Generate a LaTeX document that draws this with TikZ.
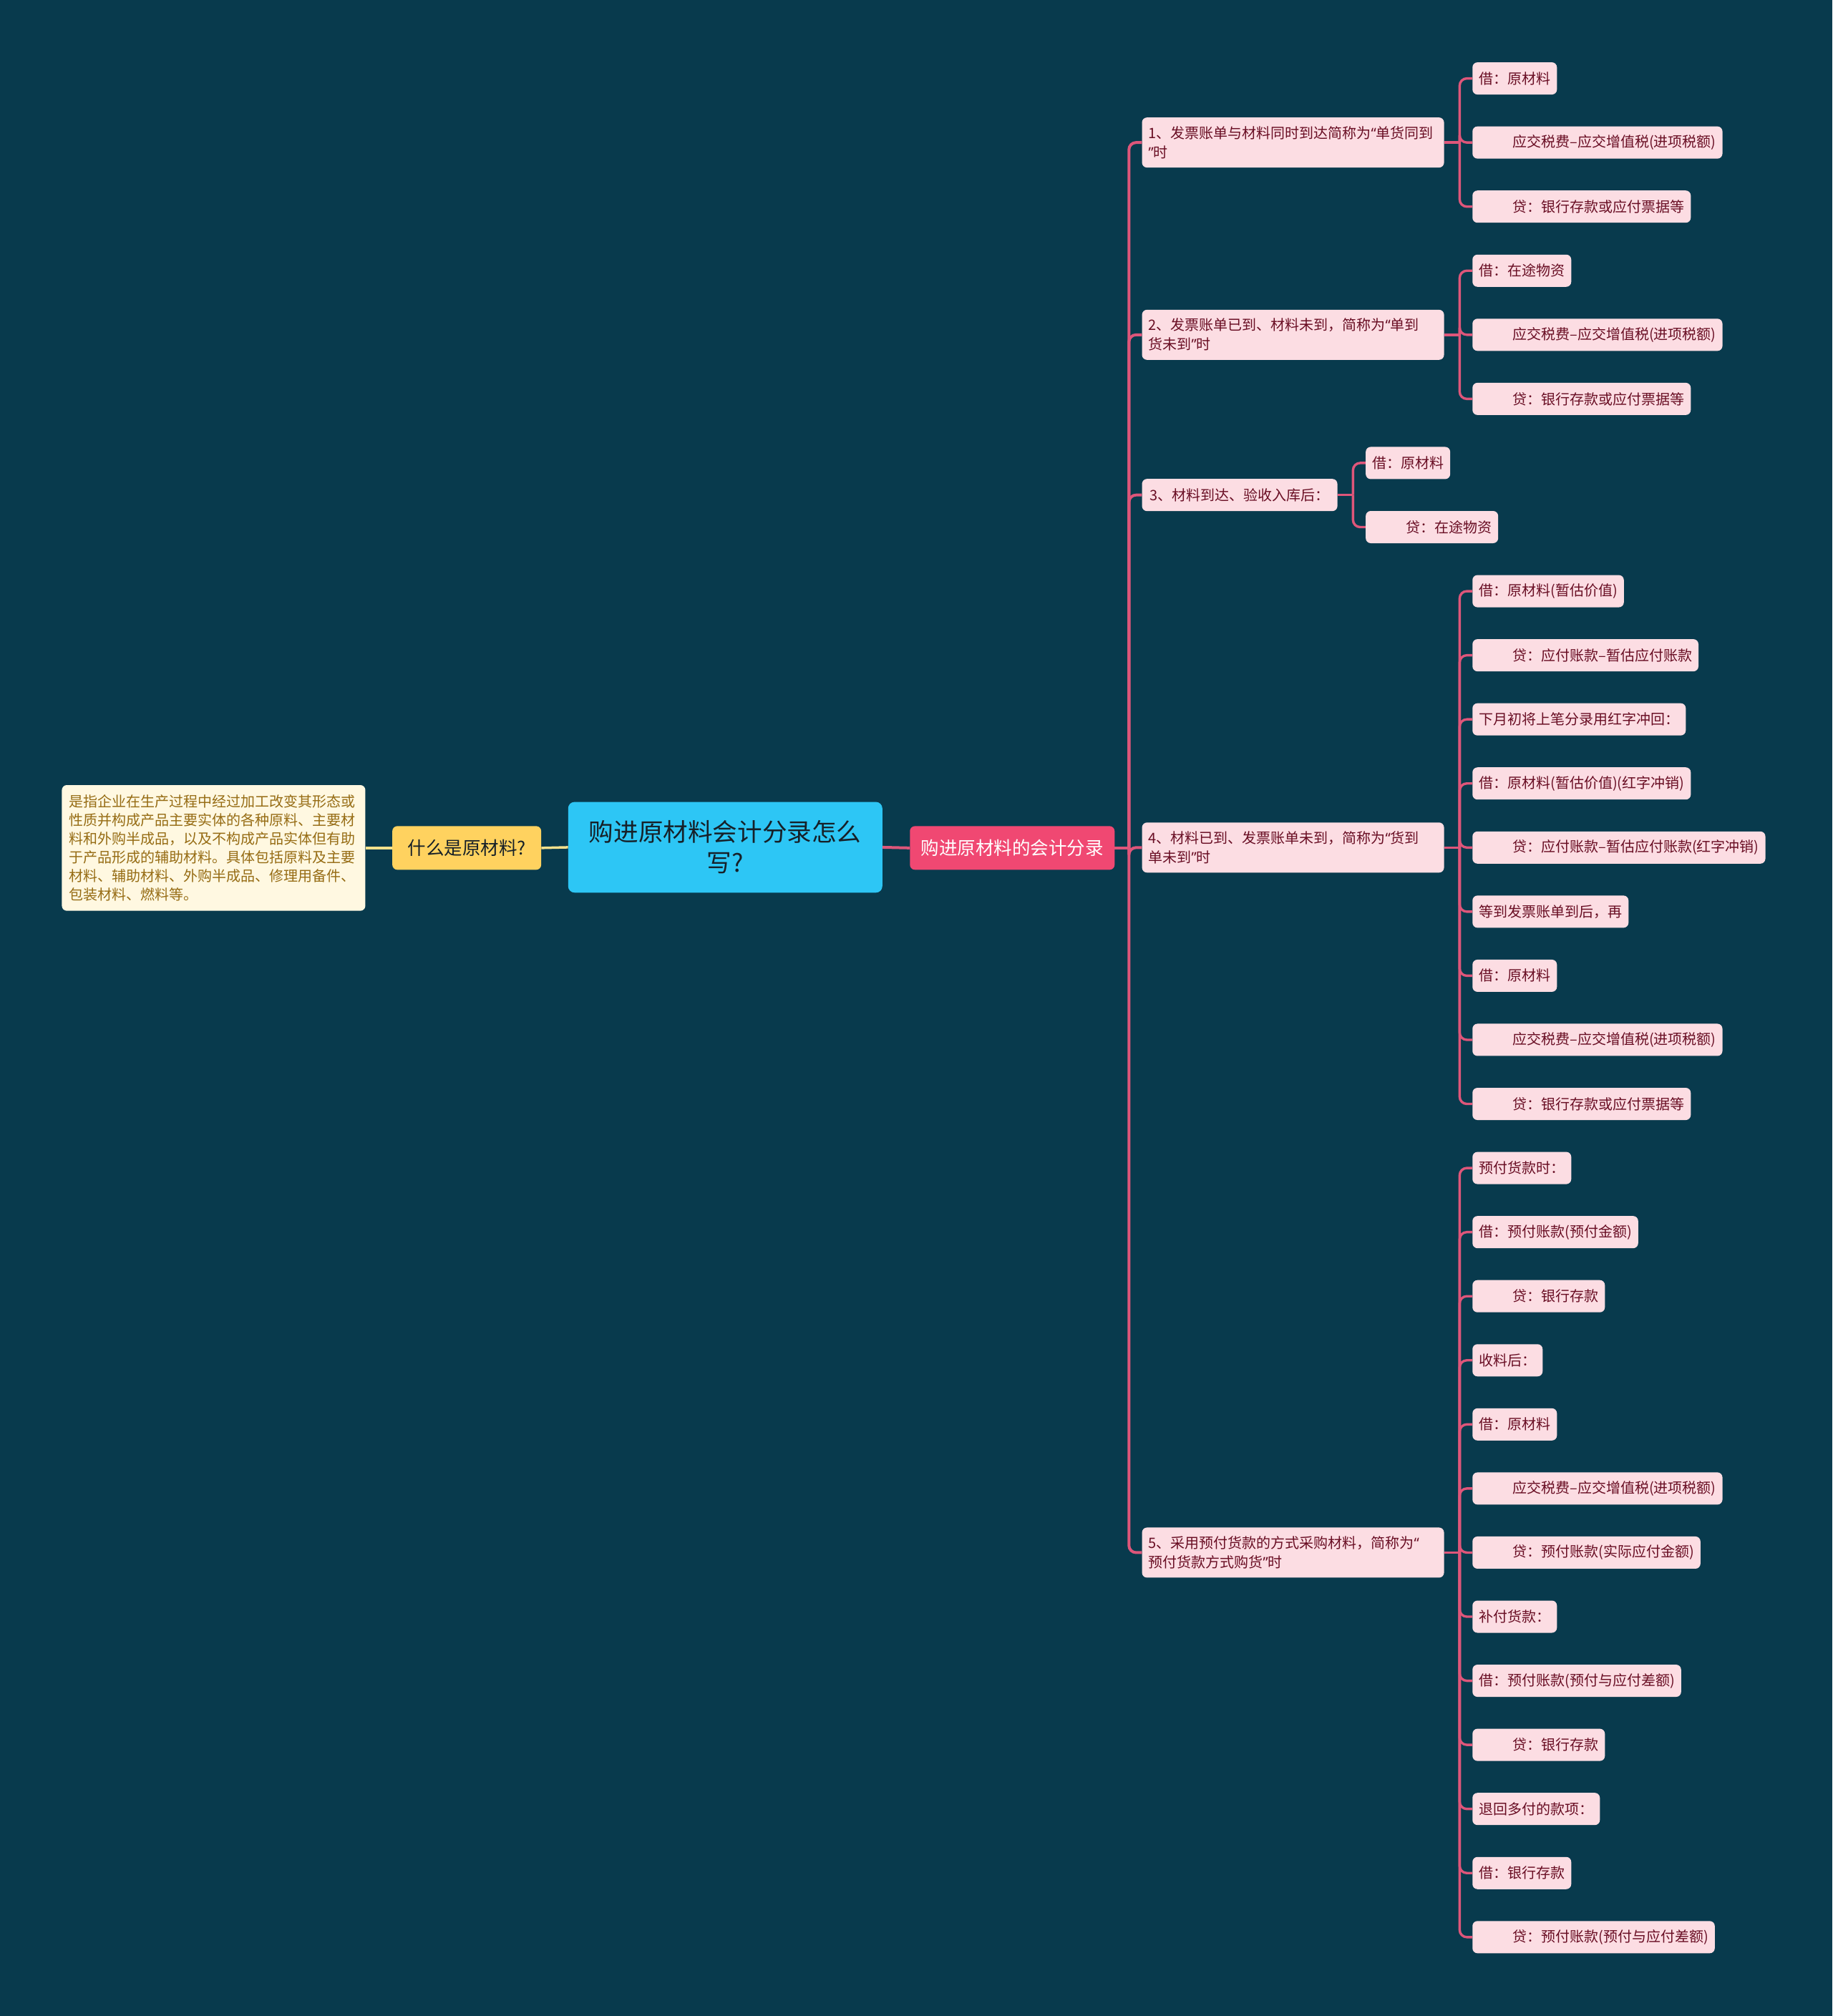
\documentclass[tikz,border=0pt]{standalone}
\usepackage{fontspec}
\newfontfamily\cjk{Noto Sans CJK SC}
\newfontfamily\lat{Noto Sans}
\newcommand{\myoq}{{\lat “}}
\newcommand{\mycq}{{\lat ”}}
\definecolor{bg}{RGB}{8,58,77}
\definecolor{leaffill}{RGB}{252,221,227}
\definecolor{leaftext}{RGB}{105,14,36}
\definecolor{linkpink}{RGB}{222,86,122}
\definecolor{redfill}{RGB}{240,72,114}
\definecolor{cyanfill}{RGB}{45,198,245}
\definecolor{yellowfill}{RGB}{255,210,95}
\definecolor{descfill}{RGB}{255,248,225}
\definecolor{desctext}{RGB}{150,108,20}
\definecolor{yellowline}{RGB}{245,225,140}
\definecolor{darktext}{RGB}{22,32,40}
\begin{document}
\begin{tikzpicture}[x=1.7965pt,y=-1.7965pt,
  leaf/.style={fill=leaffill, rounded corners=7pt, text=leaftext,
    font=\cjk\fontsize{20pt}{26pt}\selectfont, minimum height=45pt,
    inner xsep=9pt, inner ysep=0pt, anchor=west},
  midnode/.style={leaf, text width=404pt, align=left, minimum height=70pt,
    font=\cjk\fontsize{20pt}{27pt}\selectfont},
  conn/.style={draw=linkpink, line width=3.4pt},
  fork/.style={conn, rounded corners=10pt},
  trunk/.style={draw=linkpink, line width=4pt, rounded corners=10pt},
  yconn/.style={draw=yellowline, line width=3.5pt}]
\useasboundingbox (0,0) rectangle (1425,1568);
\fill[bg] (0,0) rectangle (1425,1568);

% left side
\node[fill=descfill, rounded corners=7pt, text=desctext, anchor=west,
  font=\cjk\fontsize{20pt}{26pt}\selectfont, text width=404pt, align=left,
  inner xsep=10pt, inner ysep=13.5pt] (desc) at (48,659.5)
  {是指企业在生产过程中经过加工改变其形态或\\性质并构成产品主要实体的各种原料、主要材\\料和外购半成品，以及不构成产品实体但有助\\于产品形成的辅助材料。具体包括原料及主要\\材料、辅助材料、外购半成品、修理用备件、\\包装材料、燃料等。};
\node[fill=yellowfill, rounded corners=7pt, text=darktext, anchor=west,
  font=\cjk\fontsize{25.5pt}{30pt}\selectfont, minimum width=208pt,
  minimum height=61pt] (what) at (305,659.5) {什么是原材料?};
\node[fill=cyanfill, rounded corners=9pt, text=darktext, align=center,
  font=\cjk\fontsize{34.6pt}{43.3pt}\selectfont, minimum width=439pt,
  minimum height=126.7pt] (root) at (564,659) {购进原材料会计分录怎么\\写?};
\node[fill=redfill, rounded corners=7pt, text=white, anchor=west,
  font=\cjk\fontsize{25.5pt}{30pt}\selectfont, minimum width=286pt,
  minimum height=61pt] (red) at (707.5,659.5) {购进原材料的会计分录};

\draw[yconn] (desc.east) -- (what.west);
\draw[yconn] (what.east) -- (root.west);
\draw[trunk] (root.east) -- (red.west);

% level 2
\node[midnode] (n1) at (888,110.85) {1、发票账单与材料同时到达简称为\myoq 单货同到\\\mycq 时};
\node[midnode] (n2) at (888,260.4) {2、发票账单已到、材料未到，简称为\myoq 单到\\货未到\mycq 时};
\node[leaf, minimum width=273pt] (n3) at (888,385) {3、材料到达、验收入库后：};
\node[midnode] (n4) at (888,659.2) {4、材料已到、发票账单未到，简称为\myoq 货到\\单未到\mycq 时};
\node[midnode] (n5) at (888,1207.55) {5、采用预付货款的方式采购材料，简称为\myoq\\预付货款方式购货\mycq 时};

\coordinate (t) at ([xshift=19.8pt]red.east);
\draw[trunk] (red.east) -- (t);
\foreach \n in {n1,n2,n3,n4,n5} \draw[trunk] (t) |- (\n.west);

% group 1
\node[leaf] (a1) at (1145,61) {借：原材料};
\node[leaf] (a2) at (1145,110.85) {\hspace*{47pt}应交税费–应交增值税(进项税额)};
\node[leaf] (a3) at (1145,160.7) {\hspace*{47pt}贷：银行存款或应付票据等};
% group 2
\node[leaf] (a4) at (1145,210.55) {借：在途物资};
\node[leaf] (a5) at (1145,260.4) {\hspace*{47pt}应交税费–应交增值税(进项税额)};
\node[leaf] (a6) at (1145,310.25) {\hspace*{47pt}贷：银行存款或应付票据等};
% group 3
\node[leaf] (a7) at (1062,360.1) {借：原材料};
\node[leaf] (a8) at (1062,409.95) {\hspace*{47pt}贷：在途物资};
% group 4
\node[leaf] (a9) at (1145,459.8) {借：原材料(暂估价值)};
\node[leaf] (a10) at (1145,509.65) {\hspace*{47pt}贷：应付账款–暂估应付账款};
\node[leaf] (a11) at (1145,559.5) {下月初将上笔分录用红字冲回：};
\node[leaf] (a12) at (1145,609.35) {借：原材料(暂估价值)(红字冲销)};
\node[leaf] (a13) at (1145,659.2) {\hspace*{47pt}贷：应付账款–暂估应付账款(红字冲销)};
\node[leaf] (a14) at (1145,709.05) {等到发票账单到后，再};
\node[leaf] (a15) at (1145,758.9) {借：原材料};
\node[leaf] (a16) at (1145,808.75) {\hspace*{47pt}应交税费–应交增值税(进项税额)};
\node[leaf] (a17) at (1145,858.6) {\hspace*{47pt}贷：银行存款或应付票据等};
% group 5
\node[leaf] (a18) at (1145,908.45) {预付货款时：};
\node[leaf] (a19) at (1145,958.3) {借：预付账款(预付金额)};
\node[leaf] (a20) at (1145,1008.15) {\hspace*{47pt}贷：银行存款};
\node[leaf] (a21) at (1145,1058) {收料后：};
\node[leaf] (a22) at (1145,1107.85) {借：原材料};
\node[leaf] (a23) at (1145,1157.7) {\hspace*{47pt}应交税费–应交增值税(进项税额)};
\node[leaf] (a24) at (1145,1207.55) {\hspace*{47pt}贷：预付账款(实际应付金额)};
\node[leaf] (a25) at (1145,1257.4) {补付货款：};
\node[leaf] (a26) at (1145,1307.25) {借：预付账款(预付与应付差额)};
\node[leaf] (a27) at (1145,1357.1) {\hspace*{47pt}贷：银行存款};
\node[leaf] (a28) at (1145,1406.95) {退回多付的款项：};
\node[leaf] (a29) at (1145,1456.8) {借：银行存款};
\node[leaf] (a30) at (1145,1506.65) {\hspace*{47pt}贷：预付账款(预付与应付差额)};

% forks
\coordinate (b1) at ([xshift=21.6pt]n1.east);
\draw[conn] (n1.east) -- (b1);
\foreach \c in {a1,a2,a3} \draw[fork] (b1) |- (\c.west);
\coordinate (b2) at ([xshift=21.6pt]n2.east);
\draw[conn] (n2.east) -- (b2);
\foreach \c in {a4,a5,a6} \draw[fork] (b2) |- (\c.west);
\coordinate (b3) at ([xshift=21.6pt]n3.east);
\draw[conn] (n3.east) -- (b3);
\foreach \c in {a7,a8} \draw[fork] (b3) |- (\c.west);
\coordinate (b4) at ([xshift=21.6pt]n4.east);
\draw[conn] (n4.east) -- (b4);
\foreach \c in {a9,a10,a11,a12,a13,a14,a15,a16,a17} \draw[fork] (b4) |- (\c.west);
\coordinate (b5) at ([xshift=21.6pt]n5.east);
\draw[conn] (n5.east) -- (b5);
\foreach \c in {a18,a19,a20,a21,a22,a23,a24,a25,a26,a27,a28,a29,a30} \draw[fork] (b5) |- (\c.west);
\end{tikzpicture}
\end{document}
